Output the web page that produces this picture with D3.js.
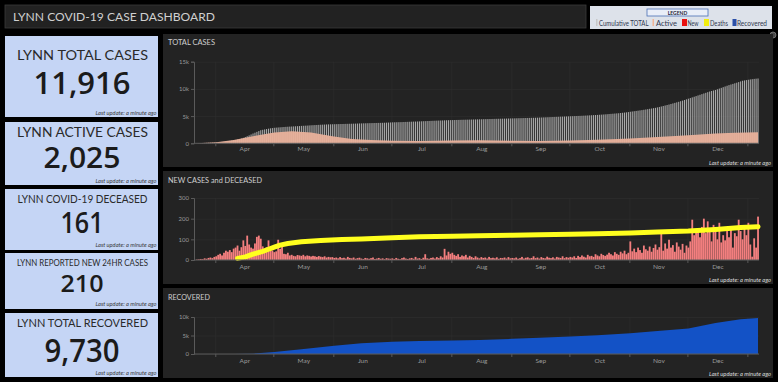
<!DOCTYPE html>
<html><head><meta charset="utf-8">
<script src="https://cdn.jsdelivr.net/npm/d3@7"></script>
<style>
html,body{margin:0;padding:0;background:#000;}
svg{display:block;font-family:Lato,"Open Sans",sans-serif;}
</style></head><body>
<svg id="c" width="778" height="382"></svg>
<script>
// ---------------- DATA ----------------
const dashboardTitle = "LYNN COVID-19 CASE DASHBOARD";
const kpiTitles = ["LYNN TOTAL CASES","LYNN ACTIVE CASES","LYNN COVID-19 DECEASED","LYNN REPORTED NEW 24HR CASES","LYNN TOTAL RECOVERED"];
const kpiValues = [11916, 2025, 161, 210, 9730];
const updateText = "Last update: a minute ago";
const chartTitles = ["TOTAL CASES","NEW CASES and DECEASED","RECOVERED"];
const legendTitle = "LEGEND";
const legendLabels = ["Cumulative TOTAL","Active","New","Deaths","Recovered"];

const startDate = "2020-03-22"; // first daily value
const totalCases = [
20,30,42,55,68,82,98,115,132,150,
175,200,230,262,300,345,390,440,495,550,615,680,750,880,1010,1150,1300,1460,1630,1800,1950,2100,2250,2400,2480,2550,2620,2690,2750,2800,
2850,2880,2910,2940,2970,3000,3025,3050,3070,3090,3110,3130,3150,3170,3200,3220,3240,3260,3285,3310,3330,3350,3370,3390,3410,3430,3450,3465,3480,3490,3500,
3510,3520,3530,3540,3550,3560,3570,3580,3590,3600,3610,3620,3635,3650,3660,3670,3680,3690,3700,3710,3720,3730,3740,3750,3760,3770,3785,3800,3815,3830,
3850,3860,3870,3880,3890,3900,3915,3930,3945,3960,3975,3990,4000,4015,4030,4045,4060,4075,4090,4105,4120,4135,4150,4165,4180,4195,4210,4225,4240,4250,4260,
4270,4280,4290,4300,4310,4320,4330,4340,4350,4360,4370,4380,4390,4400,4410,4420,4430,4440,4450,4460,4470,4480,4490,4500,4510,4520,4530,4540,4550,4560,4570,
4580,4590,4600,4610,4620,4630,4640,4650,4660,4670,4680,4690,4700,4715,4730,4745,4760,4775,4790,4805,4820,4835,4850,4865,4880,4895,4910,4925,4940,4955,
4970,4985,5000,5015,5030,5045,5060,5080,5100,5120,5140,5160,5180,5200,5220,5245,5270,5295,5320,5350,5380,5410,5440,5470,5500,5530,5570,5610,5650,5690,5740,
5800,5850,5900,5950,6000,6050,6100,6160,6220,6280,6340,6400,6460,6520,6600,6680,6770,6860,6950,7040,7130,7230,7330,7430,7530,7630,7740,7850,7960,8080,
8200,8320,8440,8560,8680,8800,8920,9040,9160,9280,9400,9520,9620,9710,9800,9930,10060,10190,10320,10450,10580,10700,10810,10920,11030,11140,11250,11380,11500,11560,11620,
11680,11740,11790,11840,11880,11916];
const newCases = [
2,3,5,4,8,6,10,12,9,15,
18,25,30,22,35,45,40,48,38,55,60,70,45,62,95,68,118,75,60,55,80,112,118,103,66,46,62,95,60,46,
38,42,98,54,65,30,28,35,22,25,20,18,24,22,20,25,18,22,20,17,20,18,15,19,16,14,18,12,15,13,14,
10,12,8,14,9,11,7,15,10,8,12,6,9,11,7,5,10,8,6,9,12,5,7,10,6,8,4,9,7,6,
8,5,10,6,4,9,12,7,5,8,10,6,15,7,9,5,11,28,8,6,10,12,7,14,9,18,12,54,22,40,30,
35,25,20,28,15,22,18,25,12,20,15,10,18,12,8,14,10,12,7,15,9,11,8,13,6,10,9,12,7,14,8,
10,8,12,6,9,15,7,11,13,8,10,18,9,12,7,14,10,8,16,11,9,13,7,15,12,10,18,9,14,11,
15,12,18,10,20,14,22,16,12,25,18,20,15,28,22,18,30,24,20,26,35,28,22,38,30,25,40,32,45,28,35,
90,42,55,38,60,48,35,70,52,45,65,40,58,75,50,62,130,45,80,55,98,60,72,40,85,65,50,78,35,70,
60,90,195,120,150,140,110,160,200,130,187,150,90,170,160,100,180,85,120,95,140,110,150,60,130,115,195,140,100,160,120,
180,75,16,105,60,210];
const activeDates = ["2020-03-22","2020-04-01","2020-04-10","2020-04-20","2020-05-01","2020-05-10","2020-05-20","2020-05-31","2020-06-10","2020-06-20","2020-07-01","2020-07-15","2020-08-01","2020-08-15","2020-09-01","2020-09-15","2020-10-01","2020-10-15","2020-11-01","2020-11-15","2020-12-01","2020-12-15","2020-12-25","2021-01-06"];
const activeValues = [10,200,600,1300,2000,2200,2000,1300,800,600,450,400,500,550,450,420,500,650,900,1150,1500,1800,1950,2025];
const deathDates = ["2020-04-12","2020-04-16","2020-04-20","2020-04-25","2020-04-28","2020-05-01","2020-05-04","2020-05-08","2020-05-15","2020-05-25","2020-06-05","2020-06-15","2020-07-01","2020-07-15","2020-08-01","2020-08-15","2020-09-01","2020-09-15","2020-10-01","2020-10-15","2020-11-01","2020-11-15","2020-12-01","2020-12-15","2020-12-28","2021-01-06"];
const deathValues = [8,15,28,42,52,62,72,80,88,94,99,102,108,112,115,117,120,122,124,127,131,135,140,148,157,161];
const recoveredDates = ["2020-03-22","2020-04-10","2020-04-20","2020-05-01","2020-05-15","2020-06-01","2020-06-15","2020-07-01","2020-07-15","2020-08-01","2020-08-15","2020-09-01","2020-09-15","2020-10-01","2020-10-15","2020-11-01","2020-11-15","2020-12-01","2020-12-15","2020-12-28","2021-01-06"];
const recoveredValues = [0,20,100,550,1300,2200,2900,3300,3500,3650,3800,4100,4400,4750,5100,5600,6200,6900,8400,9400,9730];
const totalTicks = [0,5000,10000,15000];
const newTicks = [0,100,200,300];
const recoveredTicks = [0,5000,10000];
const axisStart = "2020-03-21", axisEnd = "2021-01-07";

// ---------------- STYLE ----------------
const C = {
  bg:"#000", bar:"#222222", barStroke:"#3a3a3a", titleText:"#d0d0d0",
  kpi:"#c5d5f5", kpiText:"#1b1b1b", kpiTitle:"#2a2a2a", kpiUpd:"#3a3a3a",
  panel:"#232323", grid:"#2f2f2f", axis:"#5a5a5a", tick:"#9a9a9a", ptitle:"#cfcfcf", upd:"#dcdcdc",
  total:"#a9a9a9", active:"#e9b19b", newc:"#f47f7f", death:"#ffff1e", rec:"#1352c6",
  legBg:"#dde2ea", legHead:"#e9eef8", legHeadStroke:"#4a6fb5", legText:"#2f3850",
  legMarks:["#c8c8c8","#f0b496","#e81010","#f2ee10","#2a4fa8"]
};

const svg = d3.select("#c");
const parse = d3.timeParse("%Y-%m-%d");
const fmtComma = d3.format(",");

svg.append("rect").attr("width",778).attr("height",382).attr("fill",C.bg);

// header
svg.append("rect").attr("x",5).attr("y",5).attr("width",581).attr("height",23).attr("fill",C.bar).attr("stroke",C.barStroke).attr("stroke-width",0.8);
svg.append("text").attr("x",13).attr("y",21).attr("font-size",11.5).attr("fill",C.titleText)
  .attr("textLength",202).attr("lengthAdjust","spacingAndGlyphs").text(dashboardTitle);

// legend
svg.append("rect").attr("x",590).attr("y",6).attr("width",182).attr("height",23).attr("fill",C.legBg);
svg.append("rect").attr("x",647).attr("y",9).attr("width",61).attr("height",7).attr("fill",C.legHead).attr("stroke",C.legHeadStroke).attr("stroke-width",0.8);
svg.append("text").attr("x",677.5).attr("y",14.6).attr("text-anchor","middle").attr("font-size",5).attr("font-weight","bold").attr("fill","#223").text(legendTitle);
const legLayout = [{m:596,mw:1.5,t:599,tw:49.5},{m:652.5,mw:1.5,t:656,tw:21},{m:682,mw:5,t:687.5,tw:11},{m:704,mw:5,t:710,tw:18},{m:732.5,mw:4,t:737,tw:30}];
legendLabels.forEach((lab,i)=>{
  const L = legLayout[i];
  svg.append("rect").attr("x",L.m).attr("y",19).attr("width",L.mw).attr("height",7).attr("fill",C.legMarks[i]);
  svg.append("text").attr("x",L.t).attr("y",25.5).attr("font-size",7).attr("fill",C.legText)
    .attr("textLength",L.tw).attr("lengthAdjust","spacingAndGlyphs").text(lab);
});
svg.append("circle").attr("cx",773).attr("cy",35).attr("r",3).attr("fill","#4a4a4a").attr("stroke","#8a8a8a").attr("stroke-width",0.7);

// KPI panels
const kpiLayout = [
  {y:36,h:81, ty:59.5, ts:14, tw:131, vy:93.5, vs:30.5, vw:97, uy:115},
  {y:122,h:63, ty:137, ts:14, tw:131, vy:168, vs:28, vw:77, uy:183},
  {y:189,h:61, ty:203, ts:10.5, tw:130, vy:233, vs:28, vw:43, uy:247},
  {y:253,h:56, ty:266, ts:8.5, tw:131, vy:292, vs:24, vw:43, uy:306},
  {y:313,h:64, ty:327, ts:11.5, tw:131, vy:362, vs:32, vw:75, uy:375}
];
kpiTitles.forEach((t,i)=>{
  const L = kpiLayout[i];
  svg.append("rect").attr("x",5).attr("y",L.y).attr("width",153).attr("height",L.h).attr("fill",C.kpi);
  svg.append("text").attr("x",82.5).attr("y",L.ty).attr("text-anchor","middle").attr("font-size",L.ts).attr("fill",C.kpiTitle)
    .attr("textLength",L.tw).attr("lengthAdjust","spacingAndGlyphs").text(t);
  svg.append("text").attr("x",82).attr("y",L.vy).attr("text-anchor","middle").attr("font-size",L.vs)
    .attr("font-family","'Open Sans', Lato, sans-serif").attr("font-weight",600).attr("fill",C.kpiText)
    .attr("textLength",L.vw).attr("lengthAdjust","spacingAndGlyphs").text(fmtComma(kpiValues[i]));
  svg.append("text").attr("x",156.5).attr("y",L.uy).attr("text-anchor","end").attr("font-size",5.5).attr("font-style","italic").attr("fill",C.kpiUpd)
    .attr("textLength",61).attr("lengthAdjust","spacingAndGlyphs").text(updateText);
});

// ---------------- CHARTS ----------------
const x = d3.scaleTime().domain([parse(axisStart), parse(axisEnd)]).range([194,759]);
const start = parse(startDate);
const days = totalCases.map((_,i)=>d3.timeDay.offset(start,i));
const mid = d => d3.timeHour.offset(d,12);
const dayW = x(parse("2020-06-02")) - x(parse("2020-06-01"));
const months = d3.timeMonth.range(parse("2020-04-01"), parse("2021-01-02"));
const labelMonths = months.slice(0, months.length-1);

const panels = [
  {y:34,h:133, ty:45, tw:47, base:143.3, top:61.7, uy:164.5, xly:152},
  {y:171,h:113, ty:183, tw:94, base:260, top:198, uy:281.5, xly:270},
  {y:288,h:90, ty:300, tw:42, base:354, top:317, uy:375.5, xly:364}
];
const yScales = [
  d3.scaleLinear().domain([0,15000]).range([panels[0].base, panels[0].top]),
  d3.scaleLinear().domain([0,300]).range([panels[1].base, panels[1].top]),
  d3.scaleLinear().domain([0,10000]).range([panels[2].base, panels[2].top])
];
const tickSets = [totalTicks, newTicks, recoveredTicks];
const kfmt = d => d===0 ? "0" : (d>=1000 ? d/1000+"k" : d);

function styleAxis(g){
  g.selectAll("text").attr("fill",C.tick).attr("font-size",6).attr("font-family","Lato, sans-serif");
  g.selectAll("line").attr("stroke",C.axis);
  g.select(".domain").attr("stroke",C.axis);
}

panels.forEach((P,i)=>{
  svg.append("rect").attr("x",163).attr("y",P.y).attr("width",610).attr("height",P.h).attr("fill",C.panel);
  svg.append("text").attr("x",168).attr("y",P.ty).attr("font-size",7.5).attr("fill",C.ptitle)
    .attr("textLength",P.tw).attr("lengthAdjust","spacingAndGlyphs").text(chartTitles[i]);
  svg.append("text").attr("x",771).attr("y",P.uy).attr("text-anchor","end").attr("font-size",5.5).attr("font-style","italic").attr("fill",C.upd)
    .attr("textLength",62).attr("lengthAdjust","spacingAndGlyphs").text(updateText);
  const y = yScales[i];
  const hg = svg.append("g").attr("transform",`translate(194,0)`)
    .call(d3.axisLeft(y).tickValues(tickSets[i]).tickSize(-565).tickFormat(""));
  hg.select(".domain").remove();
  hg.selectAll("line").attr("stroke",C.grid).attr("stroke-width",0.6);
  const vg = svg.append("g").attr("transform",`translate(0,${P.base})`)
    .call(d3.axisBottom(x).tickValues(months).tickSize(-(P.base-P.top)).tickFormat(""));
  vg.select(".domain").remove();
  vg.selectAll("line").attr("stroke",C.grid).attr("stroke-width",0.6);
});

// Chart 1: total columns + active area
svg.append("g").selectAll("rect").data(days).join("rect")
  .attr("x", d => x(d) + dayW*0.22).attr("width", dayW*0.56)
  .attr("y", (d,i) => yScales[0](totalCases[i]))
  .attr("height", (d,i) => yScales[0](0) - yScales[0](totalCases[i]))
  .attr("fill", C.total);
const activePts = activeDates.map((d,i)=>({d:mid(parse(d)), v:activeValues[i]}));
svg.append("path").datum(activePts)
  .attr("d", d3.area().x(p=>x(p.d)).y0(yScales[0](0)).y1(p=>yScales[0](p.v)))
  .attr("fill", C.active).attr("opacity",0.95);

// Chart 2: new case bars + deaths line
svg.append("g").selectAll("rect").data(days).join("rect")
  .attr("x", d => x(d) + dayW*0.03).attr("width", dayW*0.94)
  .attr("y", (d,i) => yScales[1](newCases[i]))
  .attr("height", (d,i) => yScales[1](0) - yScales[1](newCases[i]))
  .attr("fill", C.newc);
const deathPts = deathDates.map((d,i)=>({d:mid(parse(d)), v:deathValues[i]}));
svg.append("path").datum(deathPts)
  .attr("d", d3.line().x(p=>x(p.d)).y(p=>yScales[1](p.v)))
  .attr("fill","none").attr("stroke",C.death).attr("stroke-width",5).attr("stroke-linejoin","round").attr("stroke-linecap","round");

// Chart 3: recovered area
const recPts = recoveredDates.map((d,i)=>({d:mid(parse(d)), v:recoveredValues[i]}));
svg.append("path").datum(recPts)
  .attr("d", d3.area().x(p=>x(p.d)).y0(yScales[2](0)).y1(p=>yScales[2](p.v)))
  .attr("fill", C.rec);

// axes on top
panels.forEach((P,i)=>{
  const y = yScales[i];
  const ya = svg.append("g").attr("transform","translate(194,0)")
    .call(d3.axisLeft(y).tickValues(tickSets[i]).tickSize(3).tickPadding(2).tickFormat(kfmt));
  styleAxis(ya);
  const xa = svg.append("g").attr("transform",`translate(0,${P.base})`)
    .call(d3.axisBottom(x).tickValues(months).tickSize(3).tickFormat(""));
  styleAxis(xa);
  xa.select(".domain").attr("d", `M194,0H759`);
  const labPos = labelMonths.map(m => new Date((+m + +d3.timeMonth.offset(m,1))/2));
  const xl = svg.append("g").attr("transform",`translate(0,${P.xly-6})`)
    .call(d3.axisBottom(x).tickValues(labPos).tickSize(0).tickPadding(0).tickFormat(d3.timeFormat("%b")));
  xl.select(".domain").remove();
  styleAxis(xl);
  xl.selectAll("text").attr("font-size",6.5);
});
</script>
</body></html>
